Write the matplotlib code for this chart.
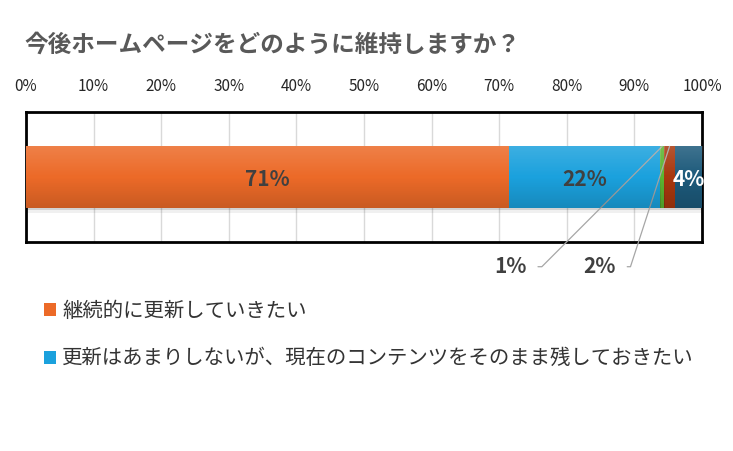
import numpy as np
import matplotlib
matplotlib.use("Agg")
import matplotlib.pyplot as plt
import matplotlib.patheffects as pe
from matplotlib.patches import Patch

plt.rcParams['font.family'] = ['Noto Sans CJK JP', 'DejaVu Sans']

# data
title = "今後ホームページをどのように維持しますか？"
categories = ["継続的に更新していきたい",
              "更新はあまりしないが、現在のコンテンツをそのまま残しておきたい",
              "その他1", "その他2", "その他3"]
values = [71.4, 22.4, 0.6, 1.6, 4.0]
colors = ["#EC6A28", "#1BA1DD", "#5CB531", "#A8380E", "#1D5A7B"]
label_colors = ["#404040", "#404040", None, None, "white"]
callout_x = {2: 71.7, 3: 84.9}        # where the small-segment labels sit
callout_angle = {2: 45, 3: 72}
ticks = np.arange(0, 101, 10)
tick_labels = [f"{t}%" for t in ticks]

fig = plt.figure(figsize=(7.33, 4.51), dpi=100)
ax = fig.add_axes([0.0355, 0.4634, 0.9222, 0.2883])

bar_h = 0.47
left = 0
for i, v in enumerate(values):
    b = ax.barh(0, v, left=left, height=bar_h, color=colors[i], zorder=3)[0]
    b.set_path_effects([pe.SimplePatchShadow(offset=(0, -2), alpha=0.12, shadow_rgbFace='k'),
                        pe.SimplePatchShadow(offset=(0, -4), alpha=0.06, shadow_rgbFace='k'),
                        pe.Normal()])
    # soft vertical gradient like the original
    grad = np.linspace(0, 1, 64).reshape(-1, 1)
    rgba = np.zeros((64, 1, 4))
    rgba[..., :3] = np.where(grad[..., None] < 0.5, 1.0, 0.0)
    rgba[..., 3] = np.abs(grad - 0.5) * 0.3
    im = ax.imshow(rgba, extent=(left, left + v, -bar_h / 2, bar_h / 2),
                   origin='upper', aspect='auto', zorder=4, interpolation='bilinear')
    im.set_clip_path(b)
    cx = left + v / 2
    if label_colors[i] is not None:
        ax.text(cx, -0.02, f"{v:.0f}%", ha='center', va='center', fontsize=15,
                fontweight='bold', color=label_colors[i], zorder=5)
    else:
        ax.annotate(f"{v:.0f}%", xy=(cx, bar_h / 2), xytext=(callout_x[i], -0.69),
                    ha='center', va='center', fontsize=15, fontweight='bold',
                    color='#404040', annotation_clip=False,
                    arrowprops=dict(arrowstyle='-', color='#a6a6a6', lw=0.9,
                                    shrinkA=6, shrinkB=0,
                                    connectionstyle=f"angle,angleA=0,angleB={callout_angle[i]},rad=0"))
    left += v

ax.set_xlim(0, 100)
ax.set_ylim(-0.5, 0.5)
ax.set_yticks([])
ax.set_xticks(ticks)
ax.set_xticklabels(tick_labels, fontsize=11, color='#262626')
ax.xaxis.tick_top()
ax.tick_params(axis='x', length=0, pad=12)
ax.grid(axis='x', color='#d9d9d9', lw=1, zorder=0)
for s in ax.spines.values():
    s.set_linewidth(2)
    s.set_color('black')

fig.text(0.033, 0.9, title, fontsize=17, fontweight='bold', color='#595959',
         ha='left', va='center')

handles = [Patch(facecolor=c) for c in colors[:2]]
fig.legend(handles=handles, labels=categories[:2], loc='upper left',
           bbox_to_anchor=(0.06, 0.333), frameon=False, fontsize=14.7,
           handlelength=0.6, handleheight=0.6, handletextpad=0.3,
           labelspacing=1.3, borderaxespad=0, borderpad=0,
           labelcolor='#333333')

fig.savefig("out.png", dpi=100)
